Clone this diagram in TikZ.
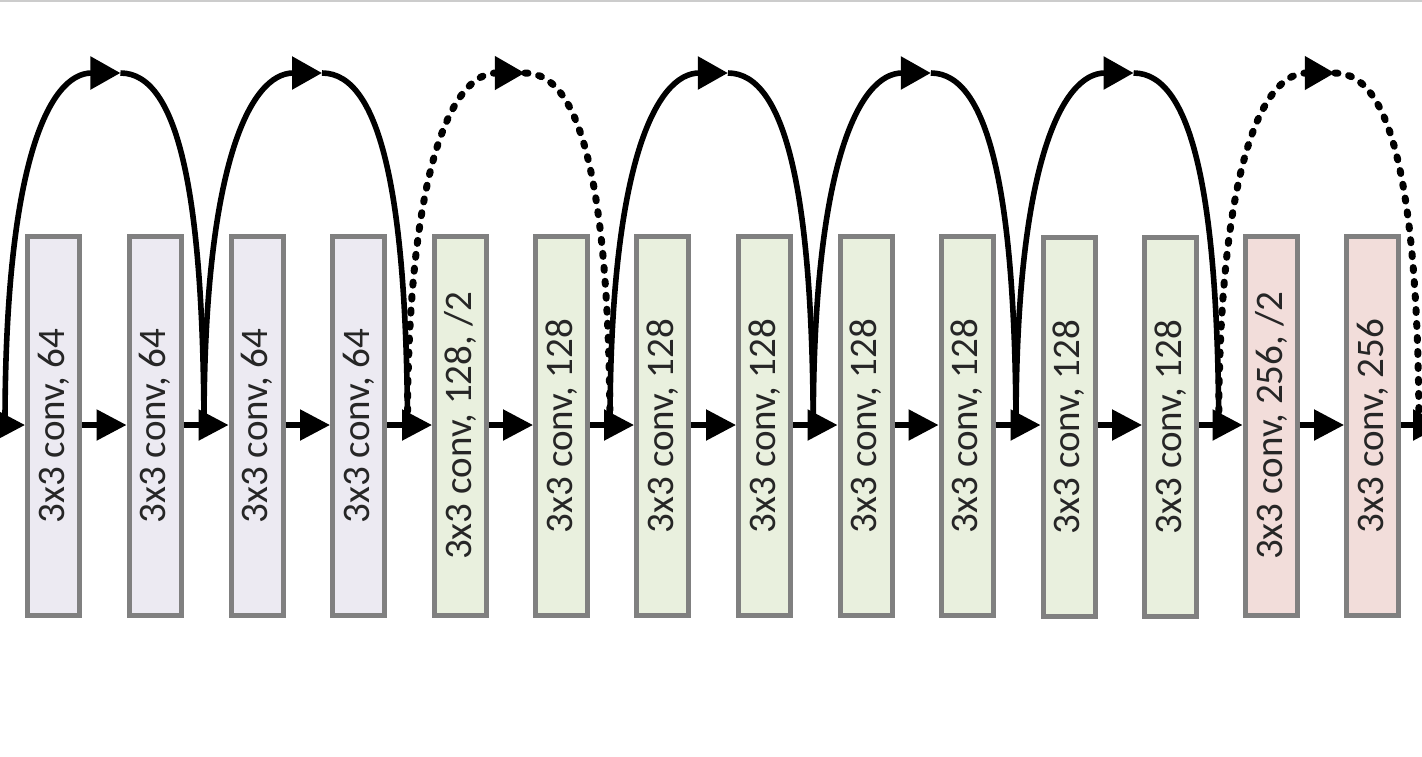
\documentclass[tikz,border=0pt]{standalone}
\usepackage{fontspec}
\setmainfont{Carlito}
\usepackage{graphicx}
\usetikzlibrary{arrows.meta,calc}
\definecolor{lav}{RGB}{236,234,242}
\definecolor{grn}{RGB}{233,240,222}
\definecolor{pnk}{RGB}{242,221,218}
\definecolor{bord}{RGB}{128,128,128}
\begin{document}
\begin{tikzpicture}[x=0.5pt,y=-0.5pt,
  box/.style={draw=bord, line width=2.5pt, minimum width=26pt, minimum height=189.5pt, inner sep=0pt, font=\fontsize{19.5}{22}\selectfont, text=black!85},
  flow/.style={line width=2.7pt, -{Triangle[length=15pt,width=15pt]}},
  skip/.style={line width=2.8pt},
  dots/.style={line width=3.5pt, line cap=round, dash pattern=on 1.5pt off 5.5pt},
  toptip/.style={-{Triangle[length=15pt,width=16pt]}}]
\useasboundingbox (0,0) rectangle (1422,756);
\fill[white] (0,0) rectangle (1422,756);
\clip (0,0) rectangle (1422,756);
\draw[black!20, line width=1pt] (0,1) -- (1422,1);
\node[box, fill=lav] (b1) at (53.5,426) {\rotatebox{90}{3x3 conv, 64}};
\node[box, fill=lav] (b2) at (155,426) {\rotatebox{90}{3x3 conv, 64}};
\node[box, fill=lav] (b3) at (257,426) {\rotatebox{90}{3x3 conv, 64}};
\node[box, fill=lav] (b4) at (358.5,426) {\rotatebox{90}{3x3 conv, 64}};
\node[box, fill=grn] (b5) at (460.5,426) {\rotatebox{90}{3x3 conv, 128, /2}};
\node[box, fill=grn] (b6) at (561.5,426) {\rotatebox{90}{3x3 conv, 128}};
\node[box, fill=grn] (b7) at (662.5,426) {\rotatebox{90}{3x3 conv, 128}};
\node[box, fill=grn] (b8) at (764.5,426) {\rotatebox{90}{3x3 conv, 128}};
\node[box, fill=grn] (b9) at (866,426) {\rotatebox{90}{3x3 conv, 128}};
\node[box, fill=grn] (b10) at (967,426) {\rotatebox{90}{3x3 conv, 128}};
\node[box, fill=grn] (b11) at (1069,427) {\rotatebox{90}{3x3 conv, 128}};
\node[box, fill=grn] (b12) at (1170.5,427) {\rotatebox{90}{3x3 conv, 128}};
\node[box, fill=pnk] (b13) at (1271,426) {\rotatebox{90}{3x3 conv, 256, /2}};
\node[box, fill=pnk] (b14) at (1372.5,426) {\rotatebox{90}{3x3 conv, 256}};
% main flow
\coordinate (in) at (-30,425);
\coordinate (out) at (1443,425);
\draw[flow] (in) -- (b1.west |- 0,425);
\foreach \i [evaluate=\i as \n using int(\i+1)] in {1,...,13}
  \draw[flow] (b\i.east |- 0,425) -- (b\n.west |- 0,425);
\draw[flow] (b14.east |- 0,425) -- (out);
% junctions
\coordinate (j0) at (5,425);
\foreach \k [evaluate=\k as \l using int(2*\k), evaluate=\k as \r using int(2*\k+1)] in {1,...,6}
  \coordinate (j\k) at ($(b\l.east |- 0,425)!0.5!(b\r.west |- 0,425)+(-2,0)$);
\coordinate (j7) at (1419,425);
% skip arcs
\foreach \k/\s in {1/skip,2/skip,3/dots,4/skip,5/skip,6/skip,7/dots}{
  \pgfmathtruncatemacro\p{\k-1}
  \coordinate (a\k) at ($(j\p)!0.58!(j\k)+(0,-352)$);
  \draw[\s, toptip] (j\p) .. controls +(0,-260) and +(-72,0) .. (a\k);
  \draw[\s] (a\k) .. controls +(60,0) and +(-1,-222) .. (j\k);
}
\end{tikzpicture}
\end{document}
